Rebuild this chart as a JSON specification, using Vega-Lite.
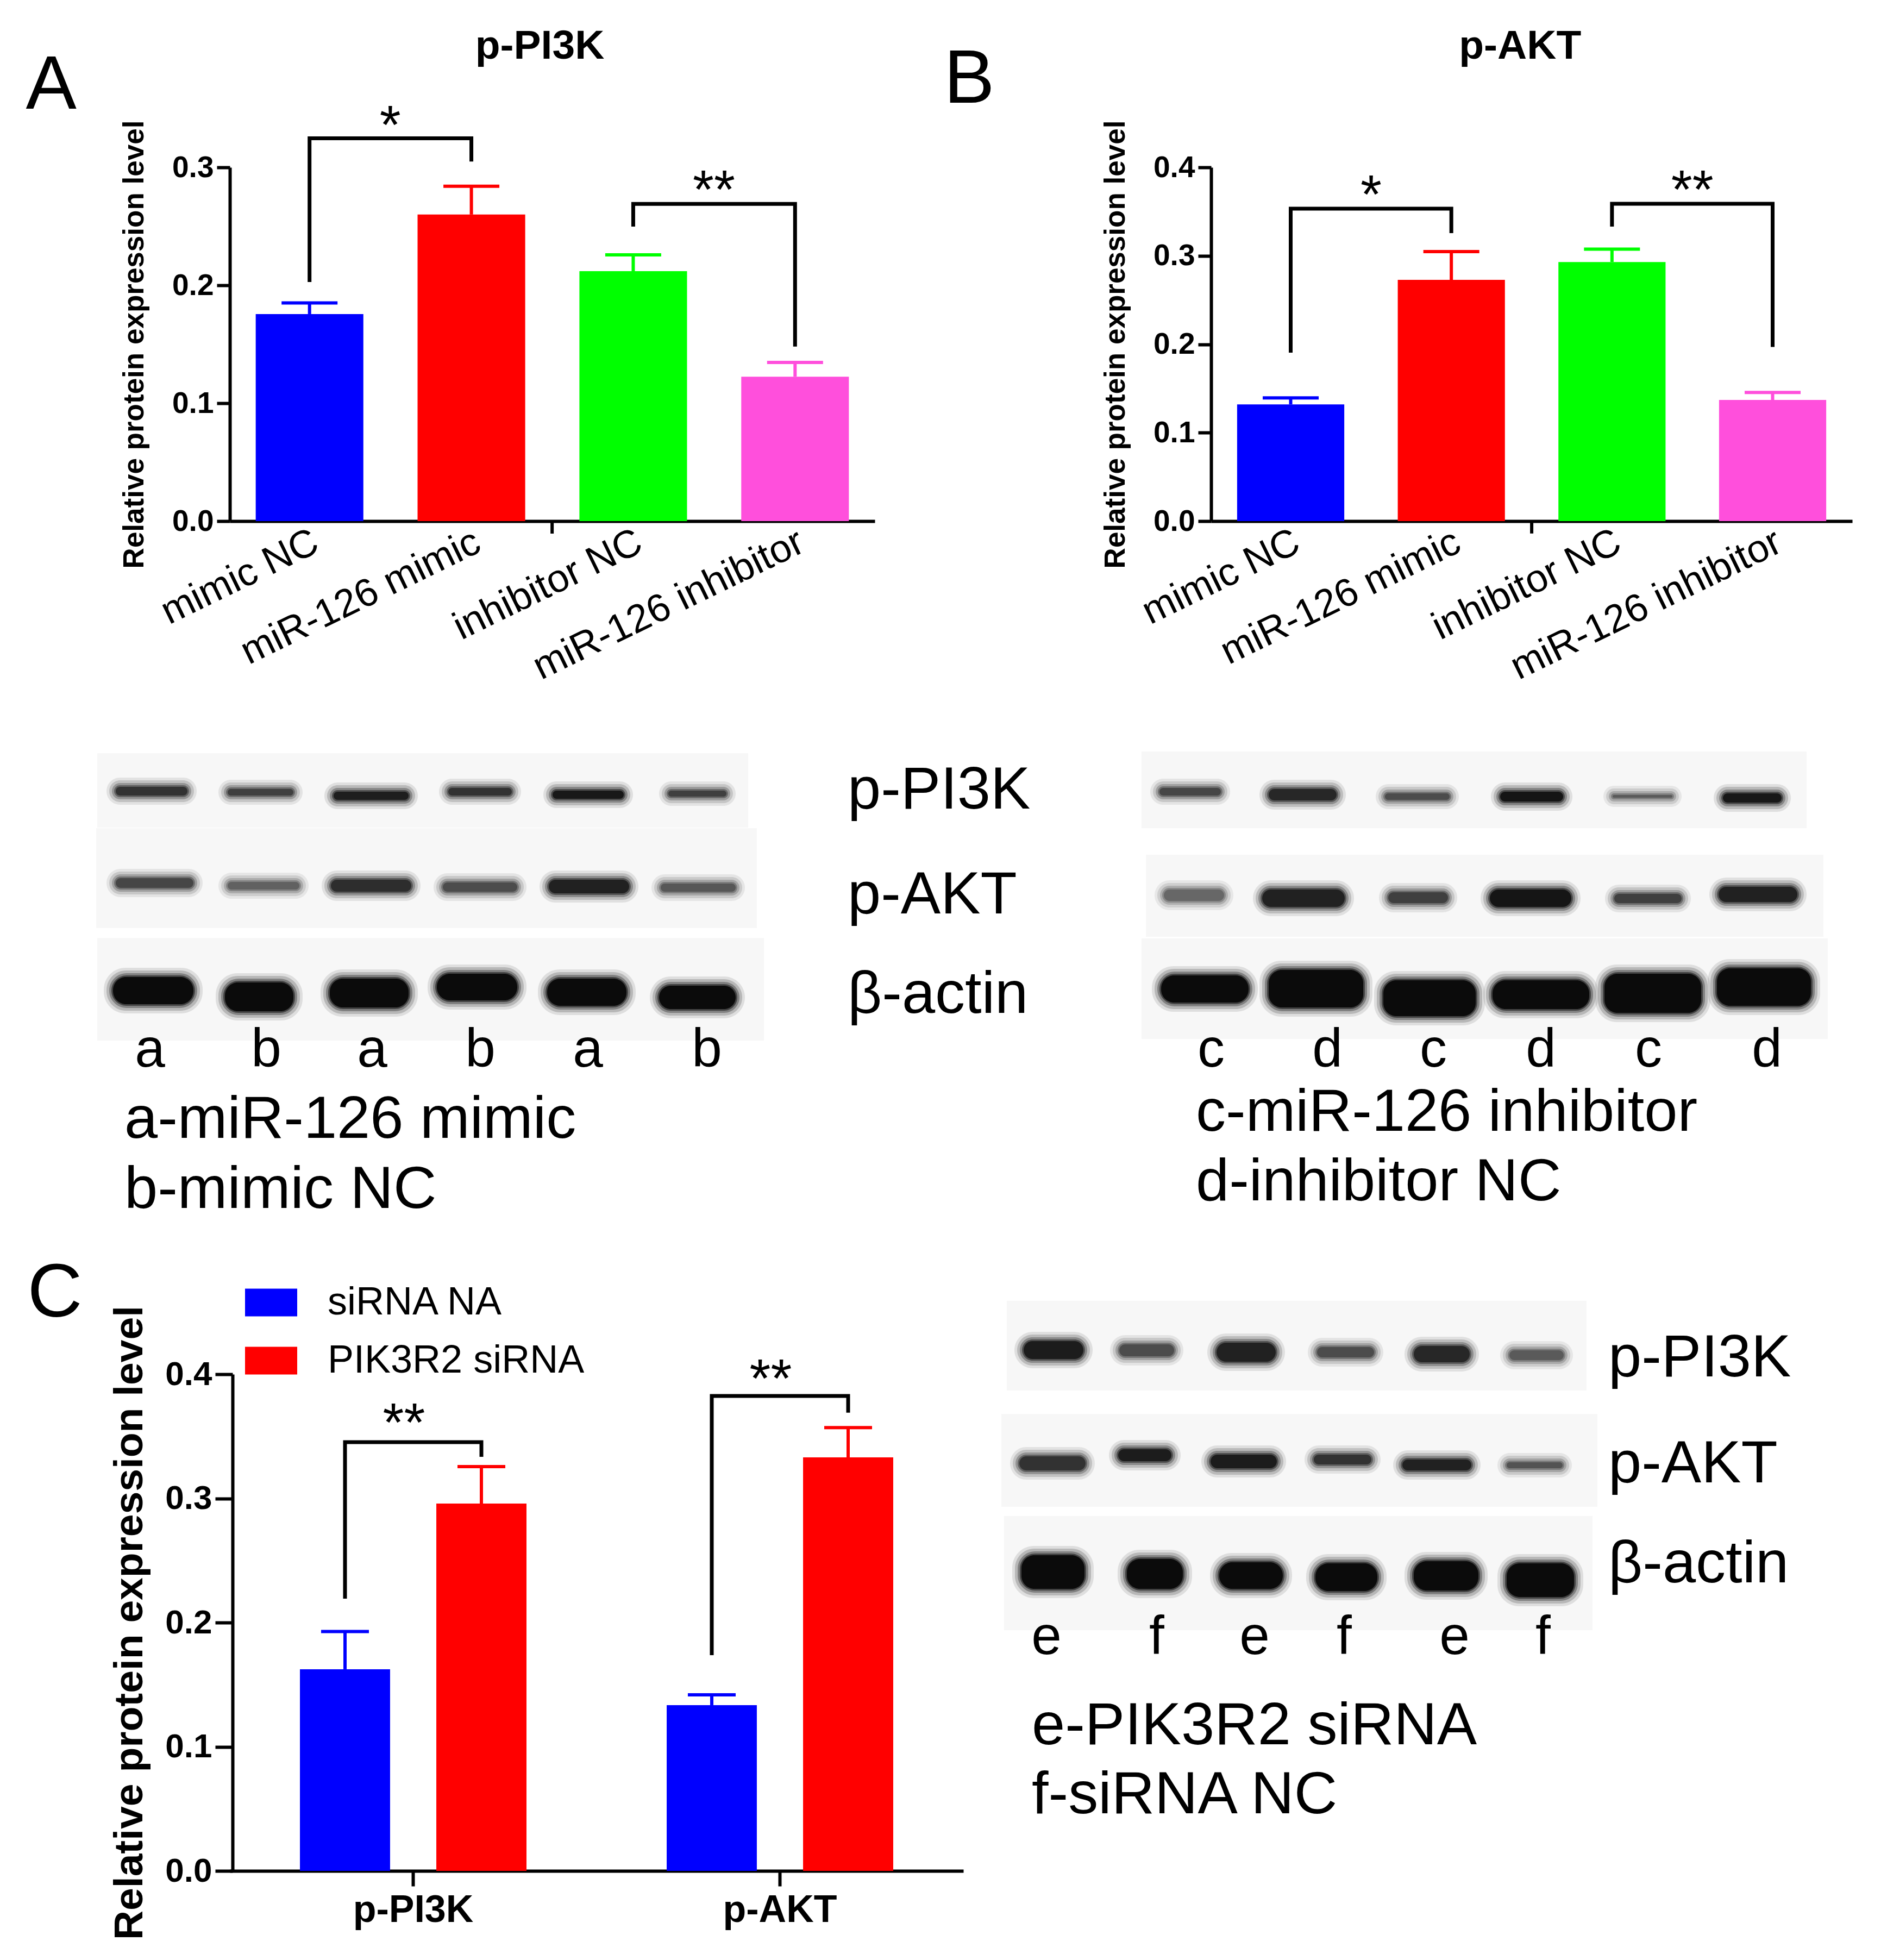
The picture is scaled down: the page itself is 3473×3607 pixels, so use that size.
{"$schema":"https://vega.github.io/schema/vega-lite/v6.json","autosize":{"type":"none"},"padding":{"left":423,"top":308,"right":3050,"bottom":3299},"background":"white","config":{"font":"Liberation Sans","view":{"stroke":null},"axis":{"grid":false,"domainColor":"black","tickColor":"black","labelColor":"black","titleColor":"black","labelFont":"Liberation Sans","titleFont":"Liberation Sans"},"text":{"color":"black"}},
"datasets":{
"barsA":[{"group":"mimic NC","value":0.1756,"upper":0.185},{"group":"miR-126 mimic","value":0.26,"upper":0.284},{"group":"inhibitor NC","value":0.212,"upper":0.2258},{"group":"miR-126 inhibitor","value":0.1225,"upper":0.1346}],
"barsB":[{"group":"mimic NC","value":0.132,"upper":0.1394},{"group":"miR-126 mimic","value":0.2728,"upper":0.3048},{"group":"inhibitor NC","value":0.293,"upper":0.3075},{"group":"miR-126 inhibitor","value":0.137,"upper":0.1455}],
"bracketsA":[{"b":1,"o":1,"group":"mimic NC","y":0.2028},{"b":1,"o":2,"group":"mimic NC","y":0.3247},{"b":1,"o":3,"group":"miR-126 mimic","y":0.3247},{"b":1,"o":4,"group":"miR-126 mimic","y":0.305},{"b":2,"o":1,"group":"inhibitor NC","y":0.2498},{"b":2,"o":2,"group":"inhibitor NC","y":0.269},{"b":2,"o":3,"group":"miR-126 inhibitor","y":0.269},{"b":2,"o":4,"group":"miR-126 inhibitor","y":0.148}],
"bracketsB":[{"b":1,"o":1,"group":"mimic NC","y":0.1905},{"b":1,"o":2,"group":"mimic NC","y":0.3533},{"b":1,"o":3,"group":"miR-126 mimic","y":0.3533},{"b":1,"o":4,"group":"miR-126 mimic","y":0.3257},{"b":2,"o":1,"group":"inhibitor NC","y":0.333},{"b":2,"o":2,"group":"inhibitor NC","y":0.3588},{"b":2,"o":3,"group":"miR-126 inhibitor","y":0.3588},{"b":2,"o":4,"group":"miR-126 inhibitor","y":0.197}],
"bandsB1":[
{"row":"p-PI3K","x0":20.6,"x1":35.2,"y0":144.1,"y1":147.1,"signal":0.7},{"row":"p-PI3K","x0":41.2,"x1":54.7,"y0":144.5,"y1":147.1,"signal":0.6},{"row":"p-PI3K","x0":60.7,"x1":75.9,"y0":145,"y1":147.9,"signal":0.88},{"row":"p-PI3K","x0":81.8,"x1":94.9,"y0":144.3,"y1":147.1,"signal":0.7},{"row":"p-PI3K","x0":101,"x1":115.5,"y0":144.8,"y1":147.7,"signal":0.92},{"row":"p-PI3K","x0":122.3,"x1":134.4,"y0":144.8,"y1":147.3,"signal":0.6},
{"row":"p-AKT","x0":20.6,"x1":36.3,"y0":160.9,"y1":164.1,"signal":0.55},{"row":"p-AKT","x0":41.2,"x1":55.8,"y0":161.6,"y1":164.4,"signal":0.35},{"row":"p-AKT","x0":60.2,"x1":76.4,"y0":161.2,"y1":164.8,"signal":0.75},{"row":"p-AKT","x0":80.8,"x1":95.9,"y0":161.7,"y1":164.8,"signal":0.5},{"row":"p-AKT","x0":100.3,"x1":116.5,"y0":161.2,"y1":165.1,"signal":0.85},{"row":"p-AKT","x0":120.9,"x1":136.1,"y0":161.9,"y1":164.8,"signal":0.42},
{"row":"b-actin","x0":20.1,"x1":36.3,"y0":179.1,"y1":185.5,"signal":1},{"row":"b-actin","x0":40.7,"x1":54.7,"y0":180.1,"y1":186.8,"signal":1},{"row":"b-actin","x0":60,"x1":75.9,"y0":179.4,"y1":186.1,"signal":1},{"row":"b-actin","x0":79.7,"x1":95.9,"y0":178.5,"y1":184.8,"signal":1},{"row":"b-actin","x0":100,"x1":116,"y0":179.4,"y1":185.8,"signal":1},{"row":"b-actin","x0":120.6,"x1":136.1,"y0":180.7,"y1":186.4,"signal":1}],
"bandsB2":[
{"row":"p-PI3K","x0":212.7,"x1":225.4,"y0":144.3,"y1":147.1,"signal":0.55},{"row":"p-PI3K","x0":232.8,"x1":246.7,"y0":144.5,"y1":148,"signal":0.8},{"row":"p-PI3K","x0":254.2,"x1":267.5,"y0":145.3,"y1":147.9,"signal":0.5},{"row":"p-PI3K","x0":275.4,"x1":288.4,"y0":145,"y1":148.2,"signal":0.95},{"row":"p-PI3K","x0":296.1,"x1":308.5,"y0":145.6,"y1":147.5,"signal":0.4},{"row":"p-PI3K","x0":316.4,"x1":328.6,"y0":145.3,"y1":148.4,"signal":0.92},
{"row":"p-AKT","x0":213.5,"x1":226,"y0":163,"y1":166.5,"signal":0.3},{"row":"p-AKT","x0":231.6,"x1":248.2,"y0":163,"y1":167.6,"signal":0.85},{"row":"p-AKT","x0":254.8,"x1":267.2,"y0":163.5,"y1":166.9,"signal":0.6},{"row":"p-AKT","x0":273.5,"x1":289.9,"y0":163,"y1":167.6,"signal":0.95},{"row":"p-AKT","x0":296.4,"x1":310.2,"y0":163.8,"y1":166.9,"signal":0.6},{"row":"p-AKT","x0":315.6,"x1":331.5,"y0":162.5,"y1":166.7,"signal":0.85},
{"row":"b-actin","x0":213,"x1":230.5,"y0":178.8,"y1":185.2,"signal":1},{"row":"b-actin","x0":232.8,"x1":251.6,"y0":177.8,"y1":186.1,"signal":1},{"row":"b-actin","x0":253.9,"x1":272.3,"y0":179.7,"y1":187.7,"signal":1},{"row":"b-actin","x0":274,"x1":293.2,"y0":179.7,"y1":186.4,"signal":1},{"row":"b-actin","x0":294.6,"x1":313.8,"y0":178.5,"y1":187.1,"signal":1},{"row":"b-actin","x0":315.3,"x1":334,"y0":177.5,"y1":185.8,"signal":1}],
"bandsB3":[
{"row":"p-PI3K","x0":187.7,"x1":200.1,"y0":246.1,"y1":250.8,"signal":0.9},{"row":"p-PI3K","x0":205.3,"x1":216.8,"y0":246.7,"y1":250.3,"signal":0.5},{"row":"p-PI3K","x0":223.2,"x1":235.5,"y0":246.4,"y1":251.3,"signal":0.85},{"row":"p-PI3K","x0":241.7,"x1":253.6,"y0":247.2,"y1":250.5,"signal":0.5},{"row":"p-PI3K","x0":259.5,"x1":271.2,"y0":247,"y1":251.4,"signal":0.8},{"row":"p-PI3K","x0":277.1,"x1":288.5,"y0":247.8,"y1":251,"signal":0.4},
{"row":"p-AKT","x0":186.9,"x1":200.5,"y0":267.3,"y1":271.3,"signal":0.7},{"row":"p-AKT","x0":205.1,"x1":216.3,"y0":266,"y1":269.6,"signal":0.9},{"row":"p-AKT","x0":222.1,"x1":235.7,"y0":267,"y1":270.9,"signal":0.9},{"row":"p-AKT","x0":241.1,"x1":253.1,"y0":267,"y1":270.2,"signal":0.7},{"row":"p-AKT","x0":257.4,"x1":271.5,"y0":267.9,"y1":271.3,"signal":0.85},{"row":"p-AKT","x0":276.6,"x1":288.3,"y0":268.4,"y1":270.9,"signal":0.45},
{"row":"b-actin","x0":187.3,"x1":200.3,"y0":285.5,"y1":293.1,"signal":1},{"row":"b-actin","x0":206.7,"x1":218.4,"y0":286.2,"y1":293.1,"signal":1},{"row":"b-actin","x0":223.7,"x1":236.8,"y0":286.8,"y1":293.1,"signal":1},{"row":"b-actin","x0":241.4,"x1":254.2,"y0":287,"y1":293.5,"signal":1},{"row":"b-actin","x0":259.5,"x1":272.8,"y0":286.6,"y1":293.4,"signal":1},{"row":"b-actin","x0":276.6,"x1":290.4,"y0":287,"y1":294.6,"signal":1}]
},
"concat":[
{"width":1187,"height":651,
"encoding":{"x":{"field":"group","type":"nominal","scale":{"domain":["mimic NC","miR-126 mimic","inhibitor NC","miR-126 inhibitor"],"paddingInner":0.335,"paddingOuter":0.16},"axis":{"title":null,"ticks":false,"domainWidth":6,"labelAngle":-26,"labelFontSize":72,"labelAlign":"right","labelBaseline":"middle","labelPadding":34,"labelOffset":12,"labelOverlap":false,"labelLimit":0}},"y":{"type":"quantitative","scale":{"domain":[0,0.3],"nice":false}}},
"layer":[
{"data":{"name":"barsA"},"mark":{"type":"bar"},"encoding":{"y":{"field":"value","type":"quantitative","scale":{"domain":[0,0.3],"nice":false},"axis":{"title":"Relative protein expression level","titleFontSize":53,"titleFontWeight":"bold","titlePadding":42,"labelFontSize":55,"labelFontWeight":"bold","format":".1f","values":[0,0.1,0.2,0.3],"tickSize":24,"tickWidth":6,"domainWidth":6,"labelPadding":6}},"color":{"field":"group","type":"nominal","scale":{"domain":["mimic NC","miR-126 mimic","inhibitor NC","miR-126 inhibitor"],"range":["#0000ff","#ff0000","#00ff00","#ff4fdc"]},"legend":null}}},
{"data":{"name":"barsA"},"mark":{"type":"rule","strokeWidth":6},"encoding":{"y":{"field":"value","type":"quantitative"},"y2":{"field":"upper"},"color":{"field":"group","type":"nominal","legend":null}}},
{"data":{"name":"barsA"},"mark":{"type":"tick","size":103,"thickness":6,"opacity":1},"encoding":{"y":{"field":"upper","type":"quantitative"},"color":{"field":"group","type":"nominal","legend":null}}},
{"data":{"name":"bracketsA"},"mark":{"type":"line","color":"black","strokeWidth":7,"strokeJoin":"miter"},"encoding":{"y":{"field":"y","type":"quantitative"},"detail":{"field":"b"},"order":{"field":"o"}}},
{"data":{"values":[{"group":"mimic NC","y":0.3433,"stars":"*"},{"group":"inhibitor NC","y":0.2885,"stars":"**"}]},"mark":{"type":"text","fontSize":100,"dy":50,"baseline":"alphabetic"},"encoding":{"x":{"field":"group","type":"nominal","bandPosition":1.25},"y":{"field":"y","type":"quantitative"},"text":{"field":"stars"}}},
{"data":{"values":[{"group":"miR-126 mimic","from":0,"to":-0.0106}]},"mark":{"type":"rule","strokeWidth":6,"color":"black"},"encoding":{"x":{"field":"group","type":"nominal","bandPosition":1.25},"y":{"field":"from","type":"quantitative"},"y2":{"field":"to"}}},
{"data":{"values":[{"group":"mimic NC","y":0.35,"panel":"A"}]},"mark":{"type":"text","fontSize":140,"baseline":"alphabetic","align":"center"},"encoding":{"x":{"field":"group","type":"nominal","bandPosition":-1.9},"y":{"field":"y","type":"quantitative"},"text":{"field":"panel"}}},
{"data":{"values":[{"group":"miR-126 mimic","y":0.392,"heading":"p-PI3K"}]},"mark":{"type":"text","fontSize":75,"fontWeight":"bold","baseline":"alphabetic","align":"center"},"encoding":{"x":{"field":"group","type":"nominal","bandPosition":1.136},"y":{"field":"y","type":"quantitative"},"text":{"field":"heading"}}}
]},
{"width":1180,"height":651,
"encoding":{"x":{"field":"group","type":"nominal","scale":{"domain":["mimic NC","miR-126 mimic","inhibitor NC","miR-126 inhibitor"],"paddingInner":0.333,"paddingOuter":0.162},"axis":{"title":null,"ticks":false,"domainWidth":6,"labelAngle":-26,"labelFontSize":72,"labelAlign":"right","labelBaseline":"middle","labelPadding":34,"labelOffset":12,"labelOverlap":false,"labelLimit":0}},"y":{"type":"quantitative","scale":{"domain":[0,0.4],"nice":false}}},
"layer":[
{"data":{"name":"barsB"},"mark":{"type":"bar"},"encoding":{"y":{"field":"value","type":"quantitative","scale":{"domain":[0,0.4],"nice":false},"axis":{"title":"Relative protein expression level","titleFontSize":53,"titleFontWeight":"bold","titlePadding":42,"labelFontSize":55,"labelFontWeight":"bold","format":".1f","values":[0,0.1,0.2,0.3,0.4],"tickSize":24,"tickWidth":6,"domainWidth":6,"labelPadding":6}},"color":{"field":"group","type":"nominal","scale":{"domain":["mimic NC","miR-126 mimic","inhibitor NC","miR-126 inhibitor"],"range":["#0000ff","#ff0000","#00ff00","#ff4fdc"]},"legend":null}}},
{"data":{"name":"barsB"},"mark":{"type":"rule","strokeWidth":6},"encoding":{"y":{"field":"value","type":"quantitative"},"y2":{"field":"upper"},"color":{"field":"group","type":"nominal","legend":null}}},
{"data":{"name":"barsB"},"mark":{"type":"tick","size":103,"thickness":6,"opacity":1},"encoding":{"y":{"field":"upper","type":"quantitative"},"color":{"field":"group","type":"nominal","legend":null}}},
{"data":{"name":"bracketsB"},"mark":{"type":"line","color":"black","strokeWidth":7,"strokeJoin":"miter"},"encoding":{"y":{"field":"y","type":"quantitative"},"detail":{"field":"b"},"order":{"field":"o"}}},
{"data":{"values":[{"group":"mimic NC","y":0.379,"stars":"*"},{"group":"inhibitor NC","y":0.3846,"stars":"**"}]},"mark":{"type":"text","fontSize":100,"dy":50,"baseline":"alphabetic"},"encoding":{"x":{"field":"group","type":"nominal","bandPosition":1.25},"y":{"field":"y","type":"quantitative"},"text":{"field":"stars"}}},
{"data":{"values":[{"group":"miR-126 mimic","from":0,"to":-0.014}]},"mark":{"type":"rule","strokeWidth":6,"color":"black"},"encoding":{"x":{"field":"group","type":"nominal","bandPosition":1.25},"y":{"field":"from","type":"quantitative"},"y2":{"field":"to"}}},
{"data":{"values":[{"group":"mimic NC","y":0.473,"panel":"B"}]},"mark":{"type":"text","fontSize":140,"baseline":"alphabetic","align":"center"},"encoding":{"x":{"field":"group","type":"nominal","bandPosition":-2.5},"y":{"field":"y","type":"quantitative"},"text":{"field":"panel"}}},
{"data":{"values":[{"group":"miR-126 mimic","y":0.523,"heading":"p-AKT"}]},"mark":{"type":"text","fontSize":75,"fontWeight":"bold","baseline":"alphabetic","align":"center"},"encoding":{"x":{"field":"group","type":"nominal","bandPosition":1.142},"y":{"field":"y","type":"quantitative"},"text":{"field":"heading"}}}
]},
{"width":1187,"height":1270,
"encoding":{"x":{"type":"quantitative","scale":{"domain":[42.3,161],"nice":false,"zero":false},"axis":null},"y":{"type":"quantitative","scale":{"domain":[110.9,237.9],"nice":false,"zero":false,"reverse":true},"axis":null}},
"layer":[
{"data":{"values":[{"x0":17.9,"x1":137.7,"y0":138.6,"y1":152.3},{"x0":17.7,"x1":139.3,"y0":152.4,"y1":170.8},{"x0":17.9,"x1":140.6,"y0":172.6,"y1":191.5}]},"mark":{"type":"rect","fill":"#f7f7f7"},"encoding":{"x":{"field":"x0","type":"quantitative"},"x2":{"field":"x1"},"y":{"field":"y0","type":"quantitative"},"y2":{"field":"y1"}}},
{"data":{"name":"bandsB1"},"mark":{"type":"rect","cornerRadius":40,"opacity":0.1,"xOffset":-10,"x2Offset":10,"yOffset":-10,"y2Offset":10},"encoding":{"x":{"field":"x0","type":"quantitative"},"x2":{"field":"x1"},"y":{"field":"y0","type":"quantitative"},"y2":{"field":"y1"},"color":{"field":"signal","type":"quantitative","scale":{"domain":[0,1],"range":["#909090","#050505"]},"legend":null}}},
{"data":{"name":"bandsB1"},"mark":{"type":"rect","cornerRadius":36,"opacity":0.18,"xOffset":-5,"x2Offset":5,"yOffset":-5,"y2Offset":5},"encoding":{"x":{"field":"x0","type":"quantitative"},"x2":{"field":"x1"},"y":{"field":"y0","type":"quantitative"},"y2":{"field":"y1"},"color":{"field":"signal","type":"quantitative","legend":null}}},
{"data":{"name":"bandsB1"},"mark":{"type":"rect","cornerRadius":32,"opacity":0.3},"encoding":{"x":{"field":"x0","type":"quantitative"},"x2":{"field":"x1"},"y":{"field":"y0","type":"quantitative"},"y2":{"field":"y1"},"color":{"field":"signal","type":"quantitative","legend":null}}},
{"data":{"name":"bandsB1"},"mark":{"type":"rect","cornerRadius":28,"opacity":0.5,"xOffset":4,"x2Offset":-4,"yOffset":4,"y2Offset":-4},"encoding":{"x":{"field":"x0","type":"quantitative"},"x2":{"field":"x1"},"y":{"field":"y0","type":"quantitative"},"y2":{"field":"y1"},"color":{"field":"signal","type":"quantitative","legend":null}}},
{"data":{"name":"bandsB1"},"mark":{"type":"rect","cornerRadius":24,"opacity":0.9,"xOffset":7,"x2Offset":-7,"yOffset":7,"y2Offset":-7},"encoding":{"x":{"field":"x0","type":"quantitative"},"x2":{"field":"x1"},"y":{"field":"y0","type":"quantitative"},"y2":{"field":"y1"},"color":{"field":"signal","type":"quantitative","legend":null}}},
{"data":{"values":[{"x":27.6,"label":"a"},{"x":49,"label":"b"},{"x":68.5,"label":"a"},{"x":88.4,"label":"b"},{"x":108.2,"label":"a"},{"x":130.1,"label":"b"}]},"mark":{"type":"text","fontSize":100,"align":"center","baseline":"alphabetic"},"encoding":{"x":{"field":"x","type":"quantitative"},"y":{"datum":196.3},"text":{"field":"label"}}},
{"data":{"values":[{"x":22.9,"y":209.4,"label":"a-miR-126 mimic"},{"x":22.9,"y":222.3,"label":"b-mimic NC"},{"x":156,"y":148.8,"label":"p-PI3K"},{"x":156,"y":168.1,"label":"p-AKT"},{"x":156,"y":186.4,"label":"β-actin"}]},"mark":{"type":"text","fontSize":110,"align":"left","baseline":"alphabetic"},"encoding":{"x":{"field":"x","type":"quantitative"},"y":{"field":"y","type":"quantitative"},"text":{"field":"label"}}}
]},
{"width":1180,"height":1135,
"encoding":{"x":{"type":"quantitative","scale":{"domain":[222.9,340.9],"nice":false,"zero":false},"axis":null},"y":{"type":"quantitative","scale":{"domain":[110.9,224.4],"nice":false,"zero":false,"reverse":true},"axis":null}},
"layer":[
{"data":{"values":[{"x0":210.1,"x1":332.5,"y0":138.3,"y1":152.4},{"x0":210.9,"x1":335.6,"y0":157.3,"y1":172.4},{"x0":210.1,"x1":336.4,"y0":172.7,"y1":191.2}]},"mark":{"type":"rect","fill":"#f7f7f7"},"encoding":{"x":{"field":"x0","type":"quantitative"},"x2":{"field":"x1"},"y":{"field":"y0","type":"quantitative"},"y2":{"field":"y1"}}},
{"data":{"name":"bandsB2"},"mark":{"type":"rect","cornerRadius":40,"opacity":0.1,"xOffset":-10,"x2Offset":10,"yOffset":-10,"y2Offset":10},"encoding":{"x":{"field":"x0","type":"quantitative"},"x2":{"field":"x1"},"y":{"field":"y0","type":"quantitative"},"y2":{"field":"y1"},"color":{"field":"signal","type":"quantitative","scale":{"domain":[0,1],"range":["#909090","#050505"]},"legend":null}}},
{"data":{"name":"bandsB2"},"mark":{"type":"rect","cornerRadius":36,"opacity":0.18,"xOffset":-5,"x2Offset":5,"yOffset":-5,"y2Offset":5},"encoding":{"x":{"field":"x0","type":"quantitative"},"x2":{"field":"x1"},"y":{"field":"y0","type":"quantitative"},"y2":{"field":"y1"},"color":{"field":"signal","type":"quantitative","legend":null}}},
{"data":{"name":"bandsB2"},"mark":{"type":"rect","cornerRadius":32,"opacity":0.3},"encoding":{"x":{"field":"x0","type":"quantitative"},"x2":{"field":"x1"},"y":{"field":"y0","type":"quantitative"},"y2":{"field":"y1"},"color":{"field":"signal","type":"quantitative","legend":null}}},
{"data":{"name":"bandsB2"},"mark":{"type":"rect","cornerRadius":28,"opacity":0.5,"xOffset":4,"x2Offset":-4,"yOffset":4,"y2Offset":-4},"encoding":{"x":{"field":"x0","type":"quantitative"},"x2":{"field":"x1"},"y":{"field":"y0","type":"quantitative"},"y2":{"field":"y1"},"color":{"field":"signal","type":"quantitative","legend":null}}},
{"data":{"name":"bandsB2"},"mark":{"type":"rect","cornerRadius":24,"opacity":0.9,"xOffset":7,"x2Offset":-7,"yOffset":7,"y2Offset":-7},"encoding":{"x":{"field":"x0","type":"quantitative"},"x2":{"field":"x1"},"y":{"field":"y0","type":"quantitative"},"y2":{"field":"y1"},"color":{"field":"signal","type":"quantitative","legend":null}}},
{"data":{"values":[{"x":222.9,"label":"c"},{"x":244.3,"label":"d"},{"x":263.8,"label":"c"},{"x":283.6,"label":"d"},{"x":303.4,"label":"c"},{"x":325.2,"label":"d"}]},"mark":{"type":"text","fontSize":100,"align":"center","baseline":"alphabetic"},"encoding":{"x":{"field":"x","type":"quantitative"},"y":{"datum":196.3},"text":{"field":"label"}}},
{"data":{"values":[{"x":220.1,"y":208.1,"label":"c-miR-126 inhibitor"},{"x":220.1,"y":220.9,"label":"d-inhibitor NC"}]},"mark":{"type":"text","fontSize":110,"align":"left","baseline":"alphabetic"},"encoding":{"x":{"field":"x","type":"quantitative"},"y":{"field":"y","type":"quantitative"},"text":{"field":"label"}}}
]},
{"width":1350,"height":914,
"data":{"values":[{"target":"p-PI3K","series":"siRNA NA","value":0.1624,"upper":0.1928},{"target":"p-PI3K","series":"PIK3R2 siRNA","value":0.2958,"upper":0.3256},{"target":"p-AKT","series":"siRNA NA","value":0.1335,"upper":0.1418},{"target":"p-AKT","series":"PIK3R2 siRNA","value":0.333,"upper":0.357}]},
"encoding":{"x":{"field":"target","type":"nominal","scale":{"domain":["p-PI3K","p-AKT"],"paddingInner":0,"paddingOuter":0},"axis":{"title":null,"labelAngle":0,"labelFontSize":70,"labelFontWeight":"bold","labelPadding":10,"labelLimit":0,"tickSize":28,"tickWidth":6,"domainWidth":6}},"xOffset":{"field":"series","type":"nominal","scale":{"domain":["siRNA NA","PIK3R2 siRNA"],"paddingInner":0.339,"paddingOuter":0.514}}},
"layer":[
{"mark":{"type":"bar"},"encoding":{"y":{"field":"value","type":"quantitative","scale":{"domain":[0,0.4],"nice":false},"axis":{"title":"Relative protein expression level","titleFontSize":75,"titleFontWeight":"bold","titlePadding":26,"labelFontSize":62,"labelFontWeight":"bold","format":".1f","values":[0,0.1,0.2,0.3,0.4],"tickSize":32,"tickWidth":6,"domainWidth":6,"labelPadding":6,"offset":-5}},"color":{"field":"series","type":"nominal","scale":{"domain":["siRNA NA","PIK3R2 siRNA"],"range":["#0000ff","#ff0000"]},"legend":{"orient":"none","legendX":28,"legendY":-180,"title":null,"labelFontSize":72,"labelFont":"Liberation Sans","labelColor":"black","symbolType":"M-1,-0.53H1V0.53H-1Z","symbolSize":9216,"symbolStrokeWidth":0,"symbolOpacity":1,"labelOffset":56,"rowPadding":23,"padding":0,"labelLimit":0}}}},
{"mark":{"type":"rule","strokeWidth":6},"encoding":{"y":{"field":"value","type":"quantitative"},"y2":{"field":"upper"},"color":{"field":"series","type":"nominal"}}},
{"mark":{"type":"tick","size":88,"thickness":6,"opacity":1},"encoding":{"y":{"field":"upper","type":"quantitative"},"color":{"field":"series","type":"nominal"}}},
{"data":{"values":[{"b":1,"o":1,"target":"p-PI3K","series":"siRNA NA","y":0.2193},{"b":1,"o":2,"target":"p-PI3K","series":"siRNA NA","y":0.3453},{"b":1,"o":3,"target":"p-PI3K","series":"PIK3R2 siRNA","y":0.3453},{"b":1,"o":4,"target":"p-PI3K","series":"PIK3R2 siRNA","y":0.3335},{"b":2,"o":1,"target":"p-AKT","series":"siRNA NA","y":0.1737},{"b":2,"o":2,"target":"p-AKT","series":"siRNA NA","y":0.3825},{"b":2,"o":3,"target":"p-AKT","series":"PIK3R2 siRNA","y":0.3825},{"b":2,"o":4,"target":"p-AKT","series":"PIK3R2 siRNA","y":0.369}]},"mark":{"type":"line","color":"black","strokeWidth":7,"strokeJoin":"miter"},"encoding":{"y":{"field":"y","type":"quantitative"},"detail":{"field":"b"},"order":{"field":"o"}}},
{"data":{"values":[{"target":"p-PI3K","y":0.368,"stars":"**"},{"target":"p-AKT","y":0.4035,"stars":"**"}]},"mark":{"type":"text","fontSize":100,"dy":50,"dx":-17,"baseline":"alphabetic"},"encoding":{"xOffset":null,"y":{"field":"y","type":"quantitative"},"text":{"field":"stars"}}},
{"data":{"values":[{"target":"p-PI3K","y":0.4464,"panel":"C"}]},"mark":{"type":"text","fontSize":140,"baseline":"alphabetic","align":"center"},"encoding":{"x":{"field":"target","type":"nominal","bandPosition":-0.477},"xOffset":null,"y":{"field":"y","type":"quantitative"},"text":{"field":"panel"}}}
]},
{"width":1000,"height":1049,
"encoding":{"x":{"type":"quantitative","scale":{"domain":[222.9,322.9],"nice":false,"zero":false},"axis":null},"y":{"type":"quantitative","scale":{"domain":[252.9,357.8],"nice":false,"zero":false,"reverse":true},"axis":null}},
"layer":[
{"data":{"values":[{"x0":185.3,"x1":292,"y0":239.4,"y1":255.9},{"x0":184.3,"x1":294,"y0":260.2,"y1":277.3},{"x0":184.8,"x1":293.1,"y0":279,"y1":300}]},"mark":{"type":"rect","fill":"#f7f7f7"},"encoding":{"x":{"field":"x0","type":"quantitative"},"x2":{"field":"x1"},"y":{"field":"y0","type":"quantitative"},"y2":{"field":"y1"}}},
{"data":{"name":"bandsB3"},"mark":{"type":"rect","cornerRadius":40,"opacity":0.1,"xOffset":-10,"x2Offset":10,"yOffset":-10,"y2Offset":10},"encoding":{"x":{"field":"x0","type":"quantitative"},"x2":{"field":"x1"},"y":{"field":"y0","type":"quantitative"},"y2":{"field":"y1"},"color":{"field":"signal","type":"quantitative","scale":{"domain":[0,1],"range":["#909090","#050505"]},"legend":null}}},
{"data":{"name":"bandsB3"},"mark":{"type":"rect","cornerRadius":36,"opacity":0.18,"xOffset":-5,"x2Offset":5,"yOffset":-5,"y2Offset":5},"encoding":{"x":{"field":"x0","type":"quantitative"},"x2":{"field":"x1"},"y":{"field":"y0","type":"quantitative"},"y2":{"field":"y1"},"color":{"field":"signal","type":"quantitative","legend":null}}},
{"data":{"name":"bandsB3"},"mark":{"type":"rect","cornerRadius":32,"opacity":0.3},"encoding":{"x":{"field":"x0","type":"quantitative"},"x2":{"field":"x1"},"y":{"field":"y0","type":"quantitative"},"y2":{"field":"y1"},"color":{"field":"signal","type":"quantitative","legend":null}}},
{"data":{"name":"bandsB3"},"mark":{"type":"rect","cornerRadius":28,"opacity":0.5,"xOffset":4,"x2Offset":-4,"yOffset":4,"y2Offset":-4},"encoding":{"x":{"field":"x0","type":"quantitative"},"x2":{"field":"x1"},"y":{"field":"y0","type":"quantitative"},"y2":{"field":"y1"},"color":{"field":"signal","type":"quantitative","legend":null}}},
{"data":{"name":"bandsB3"},"mark":{"type":"rect","cornerRadius":24,"opacity":0.9,"xOffset":7,"x2Offset":-7,"yOffset":7,"y2Offset":-7},"encoding":{"x":{"field":"x0","type":"quantitative"},"x2":{"field":"x1"},"y":{"field":"y0","type":"quantitative"},"y2":{"field":"y1"},"color":{"field":"signal","type":"quantitative","legend":null}}},
{"data":{"values":[{"x":192.6,"label":"e"},{"x":212.9,"label":"f"},{"x":230.9,"label":"e"},{"x":247.4,"label":"f"},{"x":267.7,"label":"e"},{"x":284,"label":"f"}]},"mark":{"type":"text","fontSize":100,"align":"center","baseline":"alphabetic"},"encoding":{"x":{"field":"x","type":"quantitative"},"y":{"datum":304.4},"text":{"field":"label"}}},
{"data":{"values":[{"x":189.9,"y":321,"label":"e-PIK3R2 siRNA"},{"x":189.9,"y":333.7,"label":"f-siRNA NC"},{"x":296,"y":253.3,"label":"p-PI3K"},{"x":296,"y":272.8,"label":"p-AKT"},{"x":296,"y":291.2,"label":"β-actin"}]},"mark":{"type":"text","fontSize":110,"align":"left","baseline":"alphabetic"},"encoding":{"x":{"field":"x","type":"quantitative"},"y":{"field":"y","type":"quantitative"},"text":{"field":"label"}}}
]}
],
"columns":2,"bounds":"flush","align":"none","spacing":{"row":150,"column":456},
"resolve":{"scale":{"color":"independent","x":"independent","y":"independent","xOffset":"independent"}}
}
